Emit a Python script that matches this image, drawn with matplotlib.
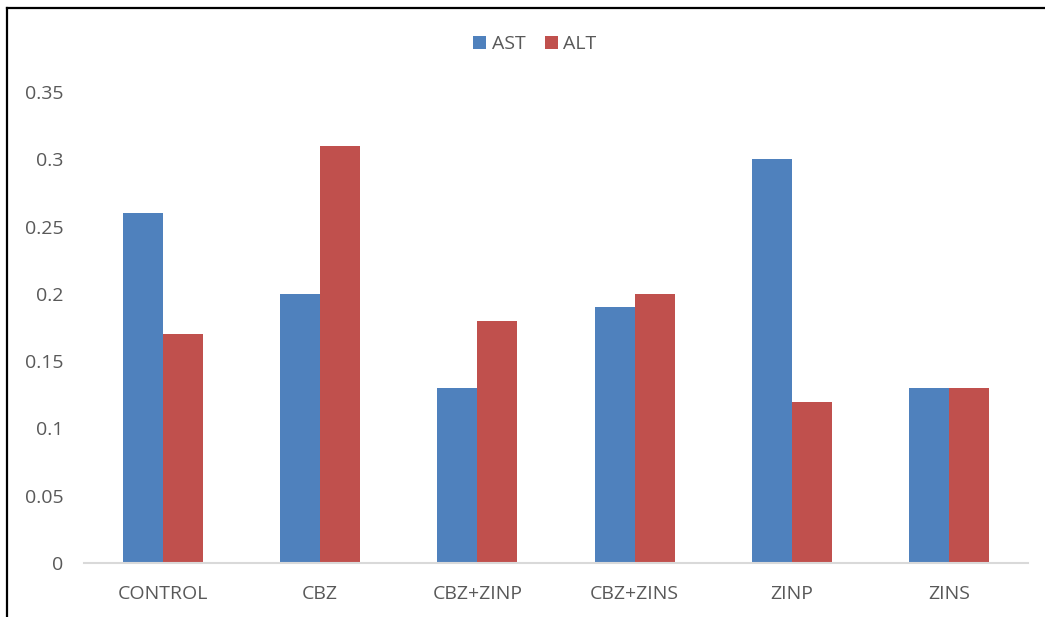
import matplotlib.pyplot as plt
import numpy as np
from matplotlib.lines import Line2D

categorias = ["CONTROL", "CBZ", "CBZ+ZINP", "CBZ+ZINS", "ZINP", "ZINS"]
ast = [0.26, 0.20, 0.13, 0.19, 0.30, 0.13]
alt = [0.17, 0.31, 0.18, 0.20, 0.12, 0.13]
yticks = [0, 0.05, 0.1, 0.15, 0.2, 0.25, 0.3, 0.35]
ytick_labels = ["0", "0.05", "0.1", "0.15", "0.2", "0.25", "0.3", "0.35"]

plt.rcParams['font.family'] = ['Open Sans', 'DejaVu Sans']
cor_texto = '#595959'

fig = plt.figure(figsize=(10.45, 6.17), dpi=100)
ax = fig.add_axes([84 / 1045, 1 - 563 / 617, 944 / 1045, (563 - 92) / 617])

x = np.arange(len(categorias))
w = 0.254
ax.bar(x - w / 2, ast, w, color='#4F81BD', label='AST')
ax.bar(x + w / 2, alt, w, color='#C0504D', label='ALT')

ax.set_xlim(-0.5, len(categorias) - 0.5)
ax.set_ylim(0, 0.35)
ax.set_yticks(yticks)
ax.set_yticklabels(ytick_labels)
ax.set_xticks(x)
ax.set_xticklabels(categorias)
ax.tick_params(axis='both', length=0, labelsize=14, colors=cor_texto)
ax.tick_params(axis='y', pad=15)
ax.tick_params(axis='x', pad=16)
for s in ['top', 'right', 'left']:
    ax.spines[s].set_visible(False)
ax.spines['bottom'].set_color('#D9D9D9')
ax.spines['bottom'].set_linewidth(1.5)

leg = fig.legend(loc='center', bbox_to_anchor=(535 / 1045, 1 - 44 / 617), ncol=2,
                 frameon=False, fontsize=14, handlelength=0.65, handleheight=0.65,
                 handletextpad=0.3, columnspacing=1.0)
for t in leg.get_texts():
    t.set_color(cor_texto)

# moldura (borda superior e esquerda)
fig.add_artist(Line2D([7 / 1045, 7 / 1045], [0, 1 - 8 / 617], color='black', lw=1.6))
fig.add_artist(Line2D([7 / 1045, 1], [1 - 8 / 617, 1 - 8 / 617], color='black', lw=1.6))

fig.savefig('out.png', dpi=100)
